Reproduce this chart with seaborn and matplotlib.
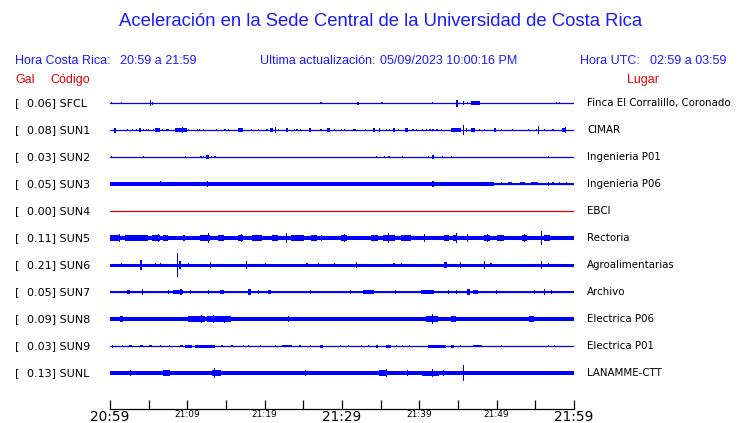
import matplotlib
matplotlib.use("Agg")
import matplotlib.pyplot as plt
import numpy as np
import pandas as pd
import seaborn as sns

sns.set_style("white")
plt.rcParams["font.family"] = ["DejaVu Sans"]

W, H = 740, 423

# stations, peak acceleration (Gal) and site names
codes = ["SFCL", "SUN1", "SUN2", "SUN3", "SUN4", "SUN5", "SUN6", "SUN7", "SUN8", "SUN9", "SUNL"]
gal = [0.06, 0.08, 0.03, 0.05, 0.00, 0.11, 0.21, 0.05, 0.09, 0.03, 0.13]
places = ["Finca El Corralillo, Coronado", "CIMAR", "Ingenieria P01", "Ingenieria P06", "EBCI",
          "Rectoria", "Agroalimentarias", "Archivo", "Electrica P06", "Electrica P01", "LANAMME-CTT"]
# background noise half-width of each trace (display units)
base = [0, 0, 0, 1.0, 0, 2.2, 1.5, 1.3, 1.8, 0, 1.8]

# bursts: (minute after 20:59, half amplitude, duration in minutes)
sfcl_ev = [(0.1, 1.3), (1.4, 1), (5.2, 2.7), (5.4, 1.5), (27.2, 1), (32.0, 1.5), (35.1, 1),
           (41.6, 1), (44.8, 3.5), (45.6, 1.7), (46.2, 1.3), (46.7, 1.7, 1.1), (57.7, 1.3), (58.0, 1.3)]
sun1_ev = [(0.5, 2.5, 0.3), (2.2, 1.3), (2.8, 1.3), (3.3, 1), (3.7, 1.7, 0.3), (4.3, 1.3), (4.6, 1.3),
           (4.9, 1), (5.6, 1.3), (5.8, 1.7, 0.65), (6.7, 1.3), (7.3, 1.3), (7.5, 1), (8.4, 1.7, 1.5),
           (9.3, 3), (10.1, 1.3), (11.2, 1.3), (11.5, 1.3), (12.0, 1.3), (13.7, 1), (14.8, 1), (15.2, 1),
           (16.6, 1.7, 0.65), (18.2, 1), (19.1, 1), (20.2, 1.3, 0.2), (20.7, 1.7, 0.35), (21.3, 2.7),
           (21.7, 1.3), (22.7, 1.7, 0.3), (23.8, 1.3), (24.1, 1.3), (24.6, 1.3), (25.7, 1.7, 0.3),
           (27.2, 1.3), (28.0, 1.7, 0.45), (29.0, 1.3), (29.9, 1.3), (30.3, 1), (31.4, 1.3), (31.6, 1.3),
           (33.0, 1), (34.0, 1.7, 0.3), (34.8, 1.7), (35.7, 1.3), (36.1, 1.3), (36.6, 1.7, 0.3),
           (37.2, 1.3), (38.2, 1.7, 0.3), (39.1, 1.3), (39.6, 1), (40.3, 1), (40.9, 1.3), (41.3, 1.3),
           (41.7, 1.3), (42.2, 1), (42.8, 1), (44.1, 1.7, 1.3), (45.6, 5, 0.13), (46.0, 1.7),
           (46.7, 1.7, 0.45), (47.7, 1.3), (48.4, 1), (49.7, 1.7, 0.2), (50.5, 1.3), (52.0, 1), (54.0, 1),
           (55.1, 1.3), (55.4, 4, 0.13), (56.1, 1), (57.2, 1), (58.5, 1.7, 0.45), (58.8, 3, 0.13)]
sun2_ev = [(0.1, 1.3), (4.3, 1.3), (9.7, 0.8), (11.7, 1.3), (12.0, 1.3), (12.4, 1.7, 0.4), (13.1, 1.3),
           (13.5, 1.3), (34.4, 0.8), (35.4, 0.8), (36.0, 0.8), (37.8, 0.8), (41.1, 1.3), (41.6, 2.3, 0.35),
           (42.9, 1.3), (44.1, 0.8), (56.6, 1.3)]
sun3_ev = [(0.0, 1.6, 49.7), (6.5, 2.5), (11.8, 2), (12.5, 2.7), (13.5, 1.9, 1.3), (41.7, 3.3),
           (44.7, 2), (50.5, 1.5), (51.5, 1.5, 0.5), (53.0, 1.5, 0.6), (54.5, 1.5, 0.8), (56.6, 2.3),
           (57.2, 1.5), (58.0, 1.5), (59.0, 1.5)]
sun4_ev = []
sun5_ev = [(0.0, 2.7, 1.1), (1.2, 4.3, 0.13), (1.9, 2.7, 3.0), (5.4, 3, 1.1), (6.2, 4, 0.13),
           (6.9, 2.7, 0.6), (9.5, 3), (11.6, 3, 1.3), (12.7, 5.3, 0.13), (14.0, 2.7, 0.8),
           (16.6, 3, 0.6), (16.9, 4, 0.13), (18.3, 2.7, 1.3), (20.9, 2.7, 0.8), (22.8, 5, 0.13),
           (23.4, 2.7, 1.7), (26.0, 2.7, 0.8), (27.3, 3), (29.9, 3, 0.8), (30.2, 4, 0.13),
           (33.8, 2.7, 0.8), (35.3, 3.2, 1.5), (35.9, 5, 0.13), (37.6, 2.7, 1.3), (40.6, 4.3, 0.13),
           (43.2, 2.7, 0.6), (44.3, 3.2, 0.6), (44.7, 5, 0.13), (46.2, 4, 0.13), (48.4, 3, 0.8),
           (48.7, 4, 0.13), (50.1, 3, 0.8), (53.3, 3, 0.6), (53.5, 4, 0.13), (55.7, 7, 0.13),
           (56.1, 2.7, 0.8)]
sun6_ev = [(1.4, 2), (3.9, 5.3, 0.3), (5.8, 1.7), (6.5, 1.7), (8.6, 12, 0.13), (8.9, 4, 0.3), (10.1, 2),
           (12.9, 3.3), (17.6, 3.7), (20.0, 1.7), (25.4, 2), (26.9, 1.7), (29.0, 1.7), (31.8, 3.3),
           (36.6, 2, 0.3), (37.6, 1.7), (43.2, 2.7, 0.4), (45.2, 3), (48.4, 3.7), (49.2, 2), (55.7, 3.7),
           (56.6, 1.7)]
sun7_ev = [(2.2, 2, 0.4), (4.1, 3.3), (7.5, 1.7), (8.2, 2, 1.3), (9.1, 3), (10.3, 1.7), (12.7, 1.7),
           (14.2, 2, 0.6), (17.8, 2.7, 0.4), (19.1, 2), (20.4, 1.7, 0.4), (25.8, 2), (31.0, 2),
           (32.7, 2, 1.5), (36.8, 1.7), (40.2, 1.7, 1.7), (43.7, 2), (44.7, 2), (46.2, 2.7, 0.4),
           (47.0, 2, 0.6), (49.9, 2), (54.8, 2), (56.1, 3), (57.0, 1.7)]
sun8_ev = [(0.0, 2.3, 0.6), (1.3, 2.7, 0.4), (2.8, 2.3, 0.6), (3.9, 2.3, 1.5), (6.5, 2.3, 1.3), (8.4, 2.3),
           (10.1, 2.6, 2.2), (11.8, 4, 0.13), (12.5, 2.7, 1.5), (13.3, 4.3, 0.13), (14.0, 2.6, 1.7),
           (14.8, 3.5, 0.13), (16.8, 2.3, 1.3), (18.9, 2.3), (21.2, 2.3), (23.0, 2.7), (25.2, 2.3),
           (27.3, 2.3), (29.7, 2.3), (32.3, 2.3), (34.6, 2.3), (35.9, 2.3), (36.8, 2.3), (38.7, 2.3),
           (40.9, 2.6, 1.5), (41.7, 5.3, 0.13), (44.1, 2.7, 0.6), (46.9, 2.3), (49.5, 2.3), (52.7, 2.3),
           (54.2, 2.6, 0.6), (55.7, 2.3)]
sun9_ev = [(0.3, 1.5), (1.5, 1), (2.4, 1, 0.4), (3.9, 1.3, 0.4), (5.0, 1.3, 0.4), (6.5, 1.3), (7.6, 1),
           (9.0, 1.3, 0.4), (9.7, 1.5, 0.9), (11.0, 1.5, 2.6), (14.4, 1), (15.7, 1), (17.2, 1), (17.8, 1),
           (19.4, 1), (21.3, 1), (22.2, 1.3, 1.3), (24.5, 1), (25.8, 1), (27.1, 1.5, 0.4), (29.7, 1),
           (30.8, 1), (32.5, 1), (33.3, 1), (34.4, 1.5, 0.3), (35.7, 1.5, 0.6), (37.0, 1), (37.8, 1),
           (38.7, 1.3), (41.1, 1.5, 2.4), (44.1, 1.5, 0.4), (45.2, 1), (47.0, 1.3, 1.1), (50.5, 1.3),
           (56.6, 1), (57.4, 1)]
sunl_ev = [(2.6, 2.7), (3.9, 2.3, 0.4), (5.6, 2.3), (6.8, 2.6, 1.0), (8.3, 2.3), (10.6, 2.3), (12.0, 2.3),
           (13.2, 2.9, 1.2), (13.5, 5, 0.13), (16.9, 2.3), (18.4, 2.3), (22.6, 2.3), (23.7, 2.3),
           (25.2, 2.7), (26.8, 2.3), (27.4, 2.3), (33.1, 2.3), (34.8, 2.6, 1.0), (35.7, 3.7, 0.13),
           (38.4, 2.7), (40.4, 2.5, 2.1), (41.7, 4, 0.13), (43.0, 2.7), (43.8, 2.3), (44.4, 2.3),
           (45.7, 8, 0.13), (46.6, 2.3), (47.3, 2.2, 2.0), (51.0, 2.3), (52.2, 2.3), (56.9, 2.3)]
events = [sfcl_ev, sun1_ev, sun2_ev, sun3_ev, sun4_ev, sun5_ev, sun6_ev, sun7_ev, sun8_ev, sun9_ev, sunl_ev]

tick_min = [0, 10, 20, 30, 40, 50, 60]
tick_lab = ["20:59", "21:09", "21:19", "21:29", "21:39", "21:49", "21:59"]

BLUE = "#0000ff"
RED = "#dd0000"
TXT_BLUE = "#1a1aff"

fig = plt.figure(figsize=(W / 100, H / 100), dpi=100)
ax = fig.add_axes([110 / W, (H - 409) / H, 464 / W, (409 - 90) / H])

# y axis works in pixel rows: trace i centred at 103 + 27 i
rows = [103 + 27 * i for i in range(len(codes))]
df = pd.DataFrame({
    "t": [0, 60] * len(codes),
    "y": [r for r in rows for _ in range(2)],
    "station": [c for c in codes for _ in range(2)],
})
pal = {c: (RED if c == "SUN4" else BLUE) for c in codes}
sns.lineplot(data=df, x="t", y="y", hue="station", palette=pal, linewidth=0.9,
             legend=False, ax=ax, estimator=None)

for r, b, ev, c in zip(rows, base, events, codes):
    col = pal[c]
    if b > 0:
        ax.fill_between([0, 60], r - b, r + b, color=col, linewidth=0)
    if ev:
        t = [e[0] for e in ev]
        a = np.array([e[1] for e in ev])
        d = [e[2] if len(e) > 2 else 0.15 for e in ev]
        ax.bar(t, 2 * a, width=d, bottom=r - a, align="edge", color=col, linewidth=0)

ax.set_xlim(0, 60)
ax.set_ylim(409, 90)
ax.set_xlabel("")
ax.set_ylabel("")
ax.set_yticks([])
for s in ["left", "right", "top"]:
    ax.spines[s].set_visible(False)
ax.spines["bottom"].set_color("black")
ax.spines["bottom"].set_linewidth(0.9)
ax.set_xticks(tick_min)
ax.set_xticks([5, 15, 25, 35, 45, 55], minor=True)
ax.set_xticklabels(tick_lab)
ax.tick_params(axis="x", which="both", direction="in", length=6.5, width=0.9,
               color="black", pad=1, bottom=True)
for lab, m in zip(ax.get_xticklabels(), tick_min):
    lab.set_fontsize(9.8 if m % 30 == 0 else 6.5)
    lab.set_color("black")

def px(x, y):
    return x / W, 1 - y / H

# title and header
fig.text(*px(381, 22), "Aceleración en la Sede Central de la Universidad de Costa Rica",
         ha="center", va="center", fontsize=13.3, color=TXT_BLUE, family="Liberation Sans")
hdr = dict(va="center", fontsize=9, color=TXT_BLUE, family="Liberation Sans")
fig.text(*px(15, 61), "Hora Costa Rica:", **hdr)
fig.text(*px(120, 61), "20:59 a 21:59", **hdr)
fig.text(*px(260, 61), "Ultima actualización:", **hdr)
fig.text(*px(380, 61), "05/09/2023 10:00:16 PM", **hdr)
fig.text(*px(580, 61), "Hora UTC:", **hdr)
fig.text(*px(650, 61), "02:59 a 03:59", **hdr)
red = dict(va="center", fontsize=9, color="#ee0000", family="Liberation Sans")
fig.text(*px(15, 80), "Gal", **red)
fig.text(*px(50, 80), "Código", **red)
fig.text(*px(627, 80), "Lugar", **red)

for r, g, c, p in zip(rows, gal, codes, places):
    fig.text(*px(15, r), "[", va="center", fontsize=8, color="black")
    fig.text(*px(27, r), f"{g:.2f}] {c}", va="center", fontsize=8, color="black")
    fig.text(*px(587, r), p, va="center", fontsize=7.4, color="black")

fig.savefig("out.png", dpi=100)
